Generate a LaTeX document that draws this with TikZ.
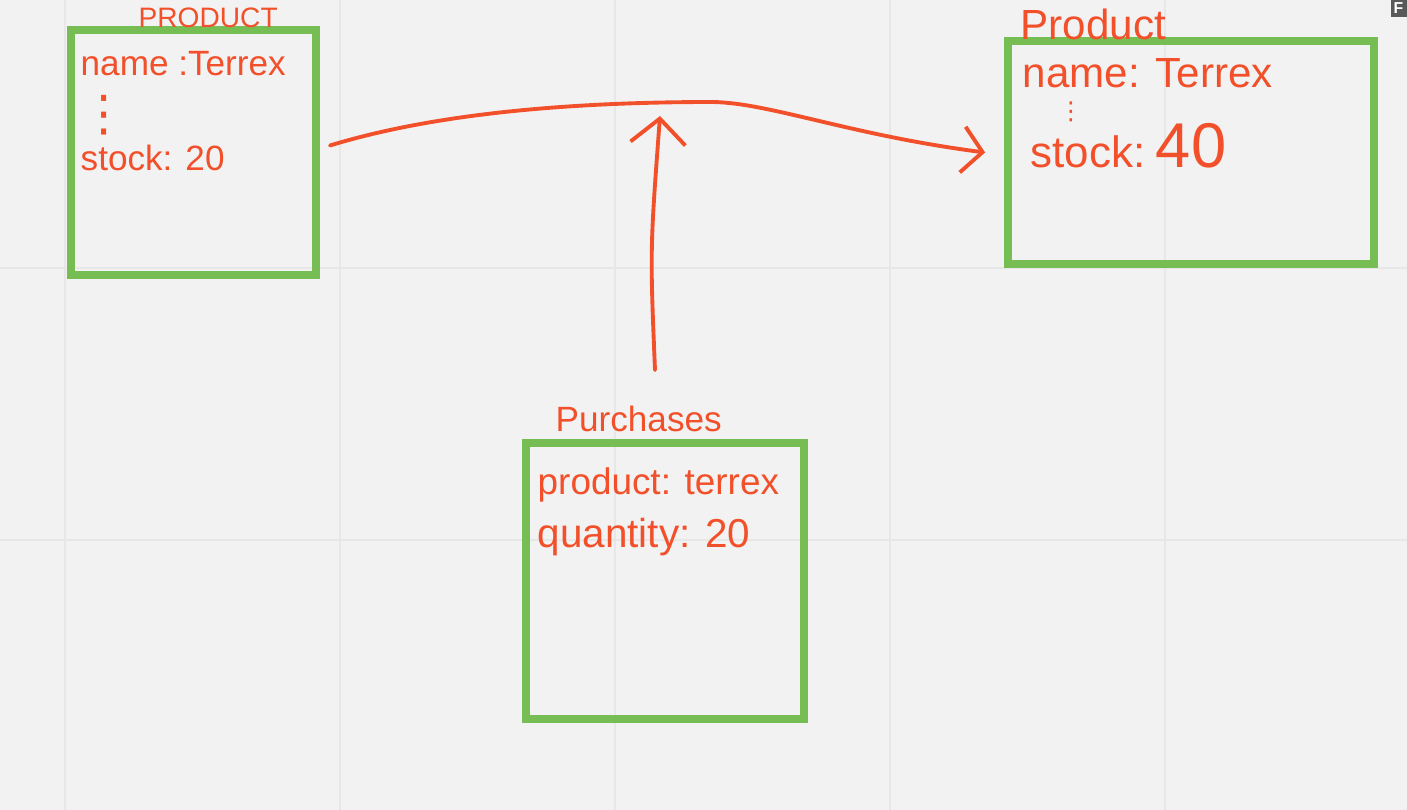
\documentclass[tikz,border=0pt]{standalone}
\usepackage{fontspec}
\setmainfont{Liberation Sans}
\newfontfamily\dotsfont{DejaVu Sans}
\usetikzlibrary{arrows.meta,positioning}
\definecolor{board}{RGB}{242,242,242}
\definecolor{gridline}{RGB}{231,231,231}
\definecolor{frame}{RGB}{118,190,84}
\definecolor{marker}{RGB}{242,80,42}

\begin{document}
\begin{tikzpicture}[x=0.02cm, y=-0.02cm, thick,
    box node/.style={rectangle,draw=frame,line width=4.5pt,inner sep=0pt},
    text node/.style={anchor=base west,inner sep=0pt,text=marker,font=\fontsize{20}{24}\selectfont},
    pen/.style={draw=marker,line width=2.2pt,line cap=round,line join=round}]

  \useasboundingbox (0,0) rectangle (1407,810);
  \fill[board] (0,0) rectangle (1407,810);
  \foreach \x in {65,340,615,890,1165}
    \draw[gridline, line width=1pt] (\x,0) -- (\x,810);
  \foreach \y in {268,540}
    \draw[gridline, line width=1pt] (0,\y) -- (1407,\y);
  \fill[black!65] (1391,0) rectangle (1407,17);
  \node[anchor=north west, inner sep=0pt, text=white, font=\bfseries\fontsize{9}{9}\selectfont] (badge) at (1393,2) {F};

  \node[box node, minimum width=4.9cm, minimum height=4.9cm] (1) at (193.5,152.5) {};
  \node[box node, minimum width=7.32cm, minimum height=4.46cm] (2) at (1191,152.5) {};
  \node[box node, minimum width=5.56cm, minimum height=5.52cm] (3) at (665,581) {};

  \node[text node, font=\fontsize{16}{19}\selectfont] (1t) at (138,28) {PRODUCT};
  \node[text node] (1a) at (80,76) {name :Terrex};
  \node[text node, anchor=center, font=\dotsfont\fontsize{28}{30}\selectfont] (1d) at (104,115) {⋮};
  \node[text node] (1b) at (80,171) {stock: 20};

  \node[text node, font=\fontsize{24}{28}\selectfont] (2t) at (1020,40) {Product};
  \node[text node, font=\fontsize{24}{28}\selectfont] (2a) at (1022,88) {name: Terrex};
  \node[text node, anchor=center, font=\dotsfont\fontsize{14}{16}\selectfont] (2d) at (1071,112) {⋮};
  \node[text node, font=\fontsize{25}{30}\selectfont] (2b) at (1030,168) {stock:\hspace{6pt}{\fontsize{36}{40}\selectfont 40}};

  \node[text node] (3t) at (555,432) {Purchases};
  \node[text node, font=\fontsize{21}{25}\selectfont] (3a) at (537,495) {product: terrex};
  \node[text node, font=\fontsize{23}{27}\selectfont] (3b) at (537,548) {quantity: 20};

  \coordinate (hit) at (660,116);
  \draw[pen, -{Straight Barb[length=0.4cm, width=0.92cm]}] ([shift={(10,-7)}]1.east)
    .. controls (430,115) and (560,102) .. (713,102)
    .. controls (770,103) and (850,135) .. ([shift={(-19,0)}]2.west);
  \draw[pen, -{Straight Barb[length=0.5cm, width=1.1cm]}] ([shift={(-10,-69)}]3.north)
    .. controls (650,250) .. (hit);

\end{tikzpicture}
\end{document}
